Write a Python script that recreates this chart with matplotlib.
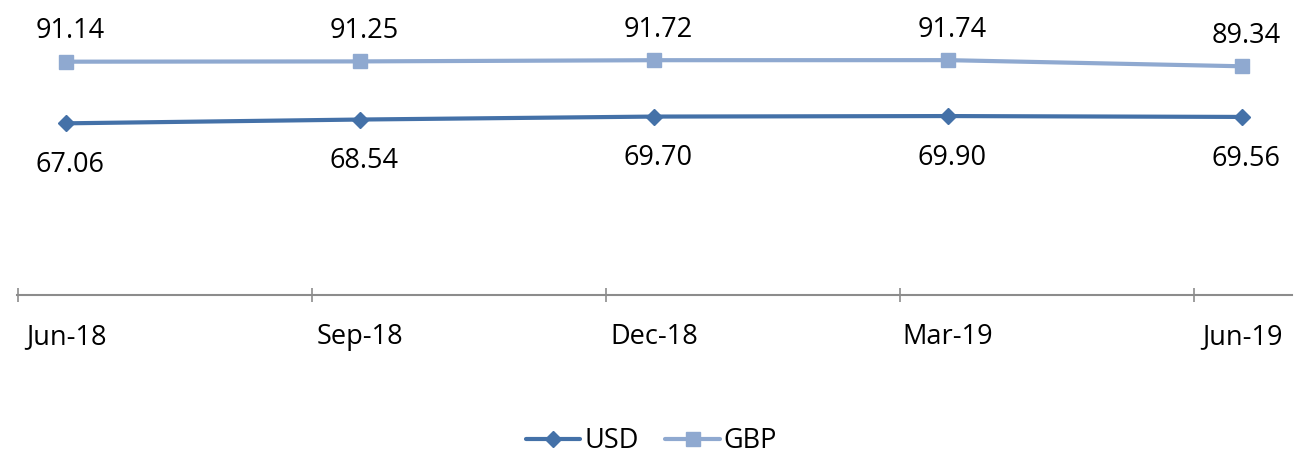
import matplotlib.pyplot as plt
import numpy as np

quarters = ['Jun-18', 'Sep-18', 'Dec-18', 'Mar-19', 'Jun-19']
usd = [67.06, 68.54, 69.70, 69.90, 69.56]
gbp = [91.14, 91.25, 91.72, 91.74, 89.34]

usd_color = '#4471a8'
gbp_color = '#8fa9d0'

plt.rcParams['font.family'] = ['Open Sans', 'DejaVu Sans']

fig = plt.figure(figsize=(13.16, 4.58), dpi=100)
ax = fig.add_axes([17 / 1316, (458 - 295) / 458, (1292 - 17) / 1316, 256 / 458])

x = np.arange(len(quarters))
ax.plot(x, usd, color=usd_color, lw=3.0, marker='D', ms=8, label='USD',
        solid_capstyle='round')
ax.plot(x, gbp, color=gbp_color, lw=3.0, marker='s', ms=10, label='GBP',
        solid_capstyle='round')

# data labels
for xi, v in zip(x, gbp):
    ax.annotate(f'{v:.2f}', (xi, v), xytext=(3, 22), textcoords='offset points',
                ha='center', va='center', fontsize=19.5)
for xi, v in zip(x, usd):
    ax.annotate(f'{v:.2f}', (xi, v), xytext=(3, -30), textcoords='offset points',
                ha='center', va='center', fontsize=19.5)

ax.set_ylim(0, 100)
ax.set_xlim(-0.167, 4.17)

# tick marks sit before each point, labels under the points
ax.set_xticks(x - 0.163)
ax.set_xticklabels([])
ax.tick_params(axis='x', which='major', length=10, width=1.2, color='#8c8c8c',
               direction='inout')
ax.set_xticks(x, minor=True)
ax.set_xticklabels(quarters, minor=True, fontsize=19.5)
ax.tick_params(axis='x', which='minor', length=0, pad=20)

ax.set_yticks([])
for s in ['top', 'right', 'left']:
    ax.spines[s].set_visible(False)
ax.spines['bottom'].set_color('#8c8c8c')
ax.spines['bottom'].set_linewidth(1.5)

fig.legend(loc='center', bbox_to_anchor=(0.495, 1 - 441 / 458), ncol=2,
           frameon=False, fontsize=19.5, handlelength=2.0, handletextpad=0.15,
           columnspacing=1.0)

fig.savefig('out.png', dpi=100)
